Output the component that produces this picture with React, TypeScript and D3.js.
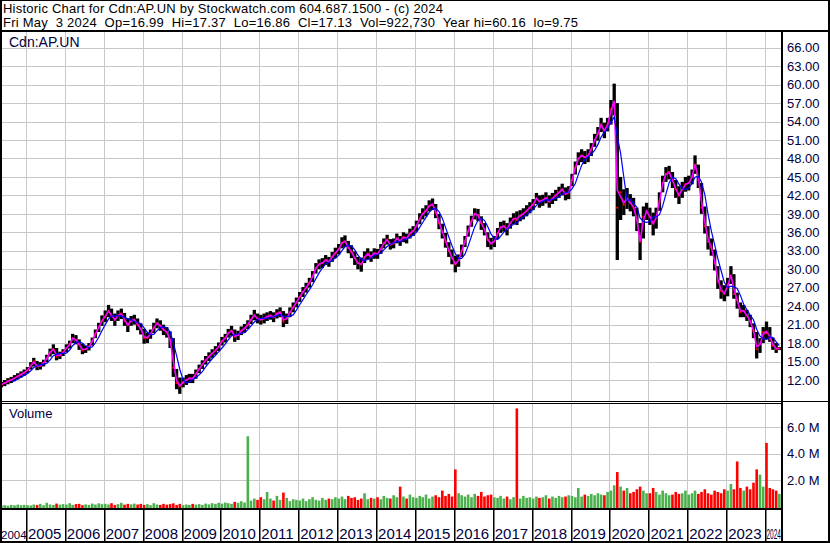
import React, { useEffect, useRef } from "react";
import * as d3 from "d3";

// monthly bars, May 2004 .. May 2024
const firstYear = 2004;
const firstMonth = 4; // May (0-based)

const closes = [
  11.2, 11.5, 11.8, 12.0, 12.3, 12.6, 12.9, 13.2,
  13.6, 14.3, 15.0, 14.2, 14.3, 14.8, 15.5, 16.5, 17.0, 15.8, 16.0, 16.5,
  17.2, 17.8, 18.8, 18.5, 17.8, 16.8, 17.0, 17.4, 18.3, 19.5, 20.6, 21.6,
  22.3, 23.2, 22.4, 21.8, 22.5, 22.8, 21.6, 21.0, 21.6, 21.8, 21.0, 20.3,
  18.8, 18.9, 19.5, 20.5, 21.2, 20.8, 20.2, 19.8, 18.5, 14.0, 11.5, 11.0,
  11.6, 12.0, 12.3, 12.2, 13.0, 13.8, 14.5, 15.2, 15.8, 16.3, 16.8, 17.4,
  18.3, 18.8, 19.6, 20.0, 19.0, 19.3, 20.0, 20.4, 21.0, 21.8, 22.5, 22.0,
  21.8, 22.0, 22.3, 22.5, 22.2, 22.8, 23.0, 21.5, 22.0, 23.0, 23.8, 24.6,
  25.5, 26.3, 27.0, 27.8, 28.8, 30.2, 30.8, 31.0, 31.5, 31.2, 32.0, 32.6,
  33.2, 34.3, 34.5, 33.5, 32.8, 31.8, 31.0, 30.8, 32.0, 32.5, 32.0, 32.6,
  32.5, 33.3, 34.2, 34.8, 34.0, 34.2, 35.0, 34.6, 35.2, 35.0, 35.8, 36.2,
  37.0, 38.2, 39.0, 39.5, 40.3, 40.5, 39.2, 37.5, 36.0, 34.5, 33.0, 31.8,
  30.8, 31.5, 33.0, 34.5, 36.2, 37.8, 39.0, 38.8, 37.5, 36.5, 34.8, 34.2,
  34.5, 35.8, 36.8, 37.0, 36.5, 37.5, 38.2, 38.0, 38.7, 39.0, 39.5, 40.0,
  40.5, 41.5, 41.0, 41.2, 41.6, 41.0, 41.5, 42.0, 42.5, 43.0, 42.2, 42.5,
  44.5, 46.5, 48.0, 48.5, 48.2, 48.5, 49.5, 51.0, 52.0, 53.5, 52.5, 53.5,
  56.0, 57.0, 40.0, 42.5, 40.5, 41.5, 40.8, 40.0, 38.0, 34.5, 38.5, 39.5,
  38.5, 37.5, 38.5, 41.0, 44.0, 45.5, 45.8, 44.5, 43.0, 42.0, 43.0, 43.8,
  44.0, 45.0, 47.0, 44.5, 40.0, 37.0, 34.5, 33.5, 31.0, 28.0, 26.5, 26.0,
  27.5, 29.0, 26.0, 25.0, 23.0, 23.2, 22.5, 21.5, 20.0, 17.0, 18.0, 19.8,
  19.6, 18.6, 17.6, 17.0, 17.13,
];

const highs = [
  11.7, 12.0, 12.3, 12.5, 12.8, 13.1, 13.4, 13.7,
  14.1, 14.9, 15.6, 15.1, 14.9, 15.3, 16.1, 17.1, 17.8, 17.2, 16.6, 17.0,
  17.8, 18.4, 19.5, 19.3, 18.6, 17.9, 17.6, 18.0, 18.9, 20.2, 21.3, 22.5,
  23.3, 24.2, 23.6, 22.8, 23.3, 23.6, 22.9, 22.0, 22.4, 22.6, 22.0, 21.2,
  20.3, 19.7, 20.2, 21.3, 22.0, 21.7, 21.0, 20.6, 19.9, 18.8, 13.8, 12.4,
  12.4, 12.8, 13.0, 13.0, 13.7, 14.5, 15.2, 15.9, 16.5, 17.0, 17.5, 18.1,
  19.0, 19.5, 20.3, 20.8, 20.2, 20.0, 20.7, 21.1, 21.7, 22.6, 23.4, 22.8,
  22.6, 22.8, 23.0, 23.2, 23.0, 23.5, 23.8, 23.2, 22.8, 23.8, 24.6, 25.4,
  26.3, 27.1, 27.8, 28.6, 29.7, 31.0, 31.6, 31.8, 32.3, 32.0, 32.8, 33.5,
  34.1, 35.2, 35.5, 34.6, 33.9, 32.9, 32.0, 31.9, 32.9, 33.4, 32.9, 33.4,
  33.3, 34.1, 35.0, 35.6, 34.9, 35.0, 35.8, 35.4, 36.0, 35.8, 36.6, 37.0,
  37.9, 39.1, 39.9, 40.4, 41.2, 41.5, 40.6, 39.0, 37.4, 35.9, 34.4, 33.2,
  32.2, 32.4, 34.0, 35.4, 37.1, 38.7, 39.9, 39.8, 38.6, 37.5, 36.0, 35.1,
  35.4, 36.7, 37.7, 37.9, 37.5, 38.4, 39.1, 39.4, 39.6, 39.9, 40.4, 40.9,
  41.4, 42.4, 42.0, 42.1, 42.5, 42.0, 42.4, 42.9, 43.4, 43.9, 43.3, 43.5,
  45.5, 47.5, 49.0, 49.5, 49.2, 49.5, 50.5, 52.0, 53.1, 54.6, 53.8, 54.6,
  57.5, 60.16, 57.0, 45.0, 43.0, 43.2, 42.2, 41.6, 40.0, 37.5, 40.2, 40.8,
  40.0, 39.2, 40.0, 42.5, 45.2, 46.6, 46.8, 45.8, 44.5, 43.5, 44.2, 45.0,
  45.2, 46.2, 48.5, 47.0, 44.0, 40.2, 37.0, 35.0, 33.2, 30.5, 28.2, 27.4,
  28.6, 30.5, 29.2, 26.2, 24.6, 24.2, 23.4, 22.6, 21.2, 19.8, 18.8, 20.6,
  21.5, 20.6, 18.9, 18.0, 17.37,
];

const lows = [
  10.8, 11.0, 11.3, 11.5, 11.8, 12.1, 12.4, 12.7,
  13.1, 13.7, 14.2, 13.6, 13.7, 14.2, 14.9, 15.8, 16.2, 15.2, 15.4, 15.9,
  16.5, 17.1, 18.0, 17.8, 16.9, 16.2, 16.4, 16.8, 17.6, 18.8, 19.8, 20.8,
  21.4, 22.2, 21.6, 20.8, 21.6, 21.9, 20.8, 19.8, 20.8, 21.0, 20.1, 19.4,
  17.9, 18.0, 18.7, 19.6, 20.4, 20.0, 19.3, 18.9, 17.2, 12.5, 10.5, 9.75,
  10.8, 11.2, 11.5, 11.5, 12.2, 13.1, 13.8, 14.5, 15.1, 15.6, 16.1, 16.7,
  17.6, 18.1, 18.9, 19.2, 18.2, 18.5, 19.3, 19.7, 20.3, 21.1, 21.7, 21.2,
  21.0, 21.2, 21.6, 21.8, 21.4, 22.0, 22.2, 20.6, 21.1, 22.2, 23.0, 23.8,
  24.7, 25.5, 26.2, 27.0, 27.9, 29.3, 30.0, 30.2, 30.7, 30.4, 31.2, 31.8,
  32.4, 33.4, 33.6, 32.6, 31.8, 30.7, 30.0, 29.6, 31.0, 31.6, 31.2, 31.7,
  31.7, 32.5, 33.4, 34.0, 33.2, 33.4, 34.2, 33.8, 34.4, 34.2, 35.0, 35.4,
  36.1, 37.3, 38.1, 38.6, 39.4, 39.6, 38.3, 36.5, 35.0, 33.5, 32.0, 30.8,
  29.5, 30.4, 32.0, 33.6, 35.3, 36.9, 38.1, 37.8, 36.4, 35.5, 33.6, 33.2,
  33.6, 34.9, 35.9, 36.1, 35.5, 36.6, 37.3, 37.2, 37.8, 38.1, 38.6, 39.1,
  39.6, 40.6, 40.0, 40.3, 40.7, 40.0, 40.6, 41.1, 41.6, 42.0, 41.2, 41.4,
  43.5, 45.4, 46.9, 47.4, 47.1, 47.4, 48.4, 49.9, 50.9, 52.3, 51.3, 52.4,
  53.5, 55.0, 31.5, 38.0, 38.8, 39.8, 39.4, 38.6, 36.2, 31.5, 35.0, 38.0,
  37.2, 35.5, 36.6, 39.5, 42.5, 44.2, 44.6, 43.2, 41.6, 40.6, 41.6, 42.6,
  42.8, 43.8, 45.5, 43.2, 39.0, 35.8, 33.2, 32.2, 29.8, 26.8, 25.2, 24.8,
  25.6, 27.6, 25.2, 23.6, 22.2, 22.2, 21.6, 20.6, 18.8, 15.5, 16.4, 18.0,
  18.6, 18.2, 16.9, 16.4, 16.86,
];

// volume in millions of shares
const volumes = [
  0.08, 0.10, 0.06, 0.12, 0.09, 0.14, 0.10, 0.12,
  0.10, 0.08, 0.15, 0.12, 0.20, 0.10, 0.28, 0.15, 0.12, 0.22, 0.14, 0.18,
  0.15, 0.25, 0.12, 0.18, 0.20, 0.10, 0.16, 0.12, 0.22, 0.15, 0.24, 0.18,
  0.20, 0.15, 0.25, 0.12, 0.18, 0.28, 0.14, 0.20, 0.16, 0.22, 0.15, 0.20,
  0.12, 0.18, 0.10, 0.25, 0.15, 0.12, 0.20, 0.14, 0.18, 0.24, 0.12, 0.20,
  0.10, 0.15, 0.12, 0.20, 0.14, 0.18, 0.12, 0.22, 0.16, 0.25, 0.20, 0.28,
  0.22, 0.30, 0.25, 0.20, 0.35, 0.28, 0.40, 0.30, 5.30, 0.45, 0.60, 0.50,
  0.70, 0.55, 1.10, 0.60, 0.45, 0.80, 0.50, 1.05, 0.65, 0.40, 0.55, 0.50,
  0.45, 0.60, 0.40, 0.55, 0.70, 0.50, 0.45, 0.65, 0.50, 0.60, 0.55, 0.70,
  0.60, 0.75, 0.55, 0.80, 0.65, 0.70, 0.50, 0.60, 1.00, 0.55, 0.65, 0.60,
  0.70, 0.55, 0.80, 0.65, 0.60, 0.85, 0.70, 1.50, 0.75, 0.60, 0.90, 0.70,
  0.65, 0.80, 0.70, 0.90, 0.60, 0.75, 0.85, 0.70, 1.20, 0.80, 0.95, 0.75,
  2.80, 1.00, 0.85, 0.75, 0.90, 0.70, 0.95, 0.80, 1.10, 0.75, 0.85, 0.90,
  0.70, 0.65, 0.80, 0.60, 0.75, 0.55, 0.70, 7.40, 0.60, 0.80, 0.65, 0.70,
  0.60, 0.75, 0.65, 0.70, 0.85, 0.60, 0.75, 0.65, 0.80, 0.70, 0.75, 0.85,
  0.80, 0.70, 1.40, 0.75, 0.90, 0.80, 0.95, 0.85, 1.00, 0.90, 0.85, 1.10,
  1.20, 1.60, 2.60, 1.50, 1.20, 1.40, 1.00, 1.10, 1.30, 1.50, 1.20, 1.00,
  1.00, 1.40, 1.10, 0.90, 1.20, 1.00, 0.85, 0.90, 1.10, 0.95, 1.00, 1.20,
  0.90, 1.00, 1.20, 0.95, 1.10, 1.30, 1.00, 0.90, 1.20, 1.10, 1.00, 1.30,
  1.20, 1.70, 1.30, 3.40, 1.40, 1.20, 1.50, 1.30, 1.80, 2.80, 2.40, 1.50,
  4.80, 1.40, 1.30, 1.20, 0.95,
];

const priceTicks = [12, 15, 18, 21, 24, 27, 30, 33, 36, 39, 42, 45, 48, 51, 54, 57, 60, 63, 66];
const volumeTicks = [2, 4, 6];
const yearLabels = [2004, 2005, 2006, 2007, 2008, 2009, 2010, 2011, 2012, 2013, 2014,
  2015, 2016, 2017, 2018, 2019, 2020, 2021, 2022, 2023, 2024];

const headerLine1 = "Historic Chart for Cdn:AP.UN by Stockwatch.com 604.687.1500 - (c) 2024";
const headerLine2 = "Fri May  3 2024  Op=16.99  Hi=17.37  Lo=16.86  Cl=17.13  Vol=922,730  Year hi=60.16  lo=9.75";
const symbol = "Cdn:AP.UN";

const W = 830, H = 543;
const plotRight = 781;
const font = "'Liberation Sans', Arial, sans-serif";
const labelColor = "#000040";
const gridColor = "#c8c8c8";

export default function App() {
  const ref = useRef<SVGSVGElement>(null);

  useEffect(() => {
    const svg = d3.select(ref.current);
    svg.selectAll("*").remove();

    const data = closes.map((c, i) => ({
      date: new Date(firstYear, firstMonth + i, 15),
      close: c,
      high: highs[i],
      low: lows[i],
      vol: volumes[i],
      up: i === 0 ? true : c >= closes[i - 1],
      typical: (highs[i] + lows[i] + c) / 3,
    }));
    // slow average, 4 bars
    const slow = data.map((d, i) =>
      i < 3 ? null : { date: d.date, v: d3.mean(closes.slice(i - 3, i + 1)) as number }
    ).filter(Boolean) as { date: Date; v: number }[];

    const x = d3.scaleTime()
      .domain([new Date(2005, 0, 1), new Date(2024, 0, 1)])
      .range([26, 765]);
    const y = d3.scaleLinear().domain([12, 66]).range([380, 47.7]);
    const yVol = d3.scaleLinear().domain([0, 6]).range([506.5, 427]);

    svg.append("rect").attr("width", W).attr("height", H).attr("fill", "#fff");

    // header
    const head = svg.append("g").style("font-family", font).style("font-size", "13px").attr("fill", "#000");
    head.append("text").attr("x", 3).attr("y", 13).attr("textLength", 440).attr("xml:space", "preserve")
      .style("white-space", "pre").text(headerLine1);
    head.append("text").attr("x", 3).attr("y", 27).attr("textLength", 575).attr("xml:space", "preserve")
      .style("white-space", "pre").text(headerLine2);

    const defs = svg.append("defs");
    defs.append("clipPath").attr("id", "clipPrice").append("rect")
      .attr("x", 0).attr("y", 32).attr("width", plotRight).attr("height", 369);
    defs.append("clipPath").attr("id", "clipVol").append("rect")
      .attr("x", 0).attr("y", 404).attr("width", plotRight).attr("height", 104);

    const yearStarts = yearLabels.slice(1).map(yr => new Date(yr, 0, 1));

    // grid
    const grid = svg.append("g").attr("stroke", gridColor).attr("stroke-width", 1);
    yearStarts.forEach(d => {
      const gx = Math.round(x(d)) + 0.5;
      grid.append("line").attr("x1", gx).attr("x2", gx).attr("y1", 32).attr("y2", 401);
      grid.append("line").attr("x1", gx).attr("x2", gx).attr("y1", 404).attr("y2", 508);
    });
    priceTicks.forEach(t => {
      const gy = Math.round(y(t)) + 0.5;
      grid.append("line").attr("x1", 0).attr("x2", plotRight).attr("y1", gy).attr("y2", gy);
    });
    volumeTicks.forEach(t => {
      const gy = Math.round(yVol(t)) + 0.5;
      grid.append("line").attr("x1", 0).attr("x2", plotRight).attr("y1", gy).attr("y2", gy);
    });

    // price bars
    const price = svg.append("g").attr("clip-path", "url(#clipPrice)");
    price.selectAll("rect.bar").data(data).join("rect")
      .attr("class", "bar")
      .attr("x", d => x(d.date) - 1.65)
      .attr("width", 3.3)
      .attr("y", d => y(d.high))
      .attr("height", d => y(d.low) - y(d.high))
      .attr("fill", "#000");
    price.selectAll("rect.cl").data(data).join("rect")
      .attr("class", "cl")
      .attr("x", d => x(d.date) - 1)
      .attr("width", 2)
      .attr("y", d => y(d.close) - 1)
      .attr("height", 2)
      .attr("fill", "#ff0000");

    const fastLine = d3.line<typeof data[number]>().x(d => x(d.date)).y(d => y(d.typical));
    price.append("path").attr("d", fastLine(data) as string)
      .attr("fill", "none").attr("stroke", "#ff00ff").attr("stroke-width", 1.6);
    const slowLine = d3.line<{ date: Date; v: number }>().x(d => x(d.date)).y(d => y(d.v));
    price.append("path").attr("d", slowLine(slow) as string)
      .attr("fill", "none").attr("stroke", "#0000ff").attr("stroke-width", 1.2);

    // volume bars
    const vol = svg.append("g").attr("clip-path", "url(#clipVol)");
    vol.selectAll("rect").data(data).join("rect")
      .attr("x", d => x(d.date) - 1.3)
      .attr("width", 2.6)
      .attr("y", d => yVol(d.vol))
      .attr("height", d => yVol(0) - yVol(d.vol) + 1.5)
      .attr("fill", d => (d.up ? "#4cb04c" : "#ff0000"));

    // frame and separators
    const frame = svg.append("g").attr("fill", "#000");
    frame.append("rect").attr("x", 0).attr("y", 0).attr("width", W).attr("height", 1);
    frame.append("rect").attr("x", 0).attr("y", 0).attr("width", 2).attr("height", H);
    frame.append("rect").attr("x", W - 2).attr("y", 0).attr("width", 2).attr("height", H);
    frame.append("rect").attr("x", 0).attr("y", H - 2).attr("width", W).attr("height", 2);
    frame.append("rect").attr("x", 0).attr("y", 30).attr("width", W).attr("height", 2);
    frame.append("rect").attr("x", 0).attr("y", 401).attr("width", plotRight).attr("height", 1);
    frame.append("rect").attr("x", 0).attr("y", 403).attr("width", plotRight).attr("height", 1);
    frame.append("rect").attr("x", plotRight).attr("y", 401).attr("width", W - plotRight).attr("height", 1);
    frame.append("rect").attr("x", 0).attr("y", 508).attr("width", plotRight + 2).attr("height", 2);
    yearStarts.forEach(d => {
      frame.append("rect").attr("x", Math.round(x(d))).attr("y", 510).attr("width", 1.5).attr("height", 31);
    });

    // axis labels
    const lab = svg.append("g").style("font-family", font).style("font-size", "13px").attr("fill", labelColor);
    priceTicks.forEach(t => {
      lab.append("text").attr("x", 787).attr("y", y(t)).attr("dy", "0.36em").text(d3.format(".2f")(t));
    });
    volumeTicks.forEach(t => {
      lab.append("text").attr("x", 787).attr("y", yVol(t)).attr("dy", "0.36em").text(d3.format(".1f")(t) + " M");
    });
    lab.append("text").attr("x", 9).attr("y", 47).style("font-size", "14px").text(symbol);
    lab.append("text").attr("x", 9).attr("y", 418).text("Volume");

    // year labels; the first and last cells are narrow
    const years = svg.append("g").style("font-family", font).style("font-size", "15px").attr("fill", labelColor);
    yearLabels.forEach((yr, i) => {
      const t = years.append("text").attr("y", 539).text(String(yr));
      if (i === 0) {
        t.attr("x", 1).style("font-size", "11.5px");
      } else if (i === yearLabels.length - 1) {
        t.attr("x", x(new Date(yr, 0, 1)) + 1.5).attr("textLength", 14.5).attr("lengthAdjust", "spacingAndGlyphs");
      } else {
        t.attr("x", x(new Date(yr, 0, 1)) + 2);
      }
    });

    // right axis line on top
    frame.append("rect").attr("x", plotRight).attr("y", 30).attr("width", 2).attr("height", H - 30);
    frame.raise();
  }, []);

  return (
    <svg ref={ref} width={W} height={H}
      style={{ position: "absolute", left: 0, top: 0, display: "block" }} />
  );
}
